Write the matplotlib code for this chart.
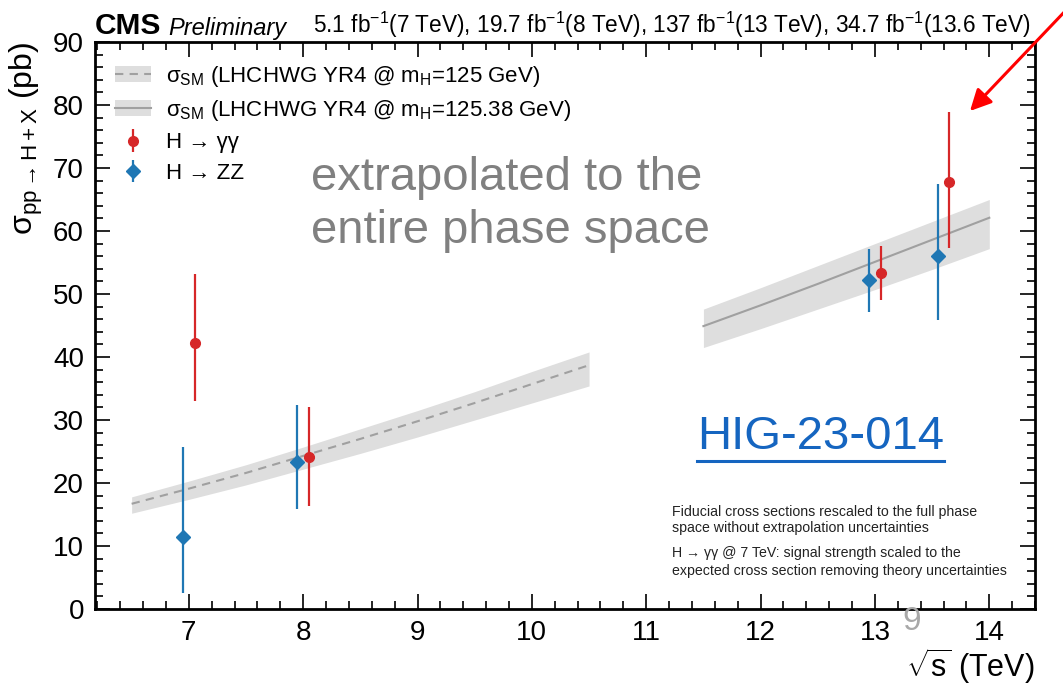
import matplotlib
matplotlib.use("Agg")
import matplotlib.pyplot as plt
from matplotlib.patches import Patch
from matplotlib.lines import Line2D
from matplotlib.ticker import MultipleLocator
import numpy as np

plt.rcParams['font.family'] = ['Liberation Sans', 'DejaVu Sans']
plt.rcParams['mathtext.fontset'] = 'custom'
plt.rcParams['mathtext.rm'] = 'Liberation Sans'
plt.rcParams['mathtext.it'] = 'Liberation Sans:italic'
plt.rcParams['mathtext.bf'] = 'Liberation Sans:bold'

# Measured cross sections (pb) per centre-of-mass energy (TeV)
sqrt_s = [7.0, 8.0, 13.0, 13.6]
gg_xs = [42.3, 24.2, 53.3, 67.7]
gg_lo = [33.0, 16.3, 49.0, 57.3]
gg_hi = [53.1, 32.0, 57.6, 78.9]
zz_xs = [11.5, 23.3, 52.2, 56.1]
zz_lo = [2.5, 15.8, 47.2, 45.8]
zz_hi = [25.7, 32.4, 57.1, 67.4]

# SM predictions, mH = 125 GeV
sm125_x = [6.5, 7.0, 7.5, 8.0, 8.5, 9.0, 9.5, 10.0, 10.5]
sm125_y = [16.7, 19.1, 21.6, 24.3, 27.0, 29.8, 32.7, 35.7, 38.7]
sm125_up = [17.8, 20.3, 22.9, 25.7, 28.6, 31.5, 34.5, 37.7, 40.8]
sm125_dn = [15.2, 17.4, 19.7, 22.2, 24.7, 27.3, 30.0, 32.7, 35.4]

# SM predictions, mH = 125.38 GeV
sm12538_x = [11.5, 12.0, 12.5, 13.0, 13.5, 14.0]
sm12538_y = [44.9, 48.2, 51.6, 55.1, 58.6, 62.1]
sm12538_up = [47.6, 51.0, 54.5, 58.0, 61.5, 65.0]
sm12538_dn = [41.5, 44.5, 47.6, 50.7, 53.9, 57.2]

x_ticks = [7, 8, 9, 10, 11, 12, 13, 14]
y_ticks = [0, 10, 20, 30, 40, 50, 60, 70, 80, 90]

red = '#d62728'
blue = '#1f77b4'
band_col = '#dedede'
line_col = '#a0a0a0'

fig = plt.figure(figsize=(10.63, 6.88), dpi=100)
ax = fig.add_axes([0.0894, 0.1148, 0.8843, 0.8242])

ax.fill_between(sm125_x, sm125_dn, sm125_up, color=band_col, lw=0)
ax.plot(sm125_x, sm125_y, color=line_col, lw=1.5, ls=(0, (4, 3)))
ax.fill_between(sm12538_x, sm12538_dn, sm12538_up, color=band_col, lw=0)
ax.plot(sm12538_x, sm12538_y, color=line_col, lw=1.5)

gx = np.array(sqrt_s) + 0.05
zx = np.array(sqrt_s) - 0.05
g_err = [np.array(gg_xs) - np.array(gg_lo), np.array(gg_hi) - np.array(gg_xs)]
z_err = [np.array(zz_xs) - np.array(zz_lo), np.array(zz_hi) - np.array(zz_xs)]
eb_g = ax.errorbar(gx, gg_xs, yerr=g_err, fmt='o', color=red, ms=7,
                   elinewidth=1.6, capsize=0, zorder=5)
eb_z = ax.errorbar(zx, zz_xs, yerr=z_err, fmt='D', color=blue, ms=7,
                   elinewidth=1.6, capsize=0, zorder=5)

ax.set_xlim(6.18, 14.4)
ax.set_ylim(0, 90)
ax.set_xticks(x_ticks)
ax.set_yticks(y_ticks)
ax.xaxis.set_minor_locator(MultipleLocator(0.2))
ax.yaxis.set_minor_locator(MultipleLocator(2))
ax.tick_params(which='both', direction='in', top=True, right=True,
               labelsize=20, width=1.2)
ax.tick_params(which='major', length=11, pad=8)
ax.tick_params(which='minor', length=5.5)
for sp in ax.spines.values():
    sp.set_linewidth(2)

ax.set_ylabel(r'σ$_{\mathrm{pp \rightarrow H+X}}$ (pb)', fontsize=23,
              loc='top', labelpad=6)
ax.set_xlabel(r'$\sqrt{\mathrm{s}}$ (TeV)', fontsize=22, loc='right',
              labelpad=0)

# Header
ax.text(0.0, 1.004, 'CMS', transform=ax.transAxes, fontsize=21.5,
        fontweight='bold', ha='left', va='bottom')
ax.text(0.078, 1.004, 'Preliminary', transform=ax.transAxes, fontsize=17,
        style='italic', ha='left', va='bottom')
ax.text(0.995, 1.004,
        r'5.1 fb$^{-1}$(7 TeV), 19.7 fb$^{-1}$(8 TeV), 137 fb$^{-1}$(13 TeV), '
        r'34.7 fb$^{-1}$(13.6 TeV)',
        transform=ax.transAxes, fontsize=16.3, ha='right', va='bottom')

# Legend
h1 = (Patch(color=band_col, lw=0), Line2D([], [], color=line_col, lw=1.5, ls=(0, (4, 3))))
h2 = (Patch(color=band_col, lw=0), Line2D([], [], color=line_col, lw=1.5))
labels = [r'$\mathrm{\sigma_{SM}}$ (LHCHWG YR4 @ $\mathrm{m_H}$=125 GeV)',
          r'$\mathrm{\sigma_{SM}}$ (LHCHWG YR4 @ $\mathrm{m_H}$=125.38 GeV)',
          'H → γγ', 'H → ZZ']
ax.legend([h1, h2, eb_g, eb_z], labels, loc='upper left',
          bbox_to_anchor=(0.0, 0.997), frameon=False, fontsize=16,
          handlelength=1.6, handletextpad=0.7, labelspacing=0.42)

ax.text(0.23, 0.714, 'extrapolated to the\nentire phase space',
        transform=ax.transAxes, fontsize=34, color='#808080',
        ha='left', va='center', linespacing=1.27)

hig = ax.text(0.640, 0.303, 'HIG-23-014', transform=ax.transAxes,
              fontsize=34, color='#1565c0', ha='left', va='center')

ax.text(0.614, 0.157,
        'Fiducial cross sections rescaled to the full phase\n'
        'space without extrapolation uncertainties',
        transform=ax.transAxes, fontsize=10.2, ha='left', va='center',
        color='#222222', linespacing=1.2)
ax.text(0.614, 0.083,
        'H → γγ @ 7 TeV: signal strength scaled to the\n'
        'expected cross section removing theory uncertainties',
        transform=ax.transAxes, fontsize=10.2, ha='left', va='center',
        color='#222222', linespacing=1.3)

# Page number
fig.text(0.858, 0.096, '9', fontsize=24, color='#a8a8a8', ha='center', va='center')

# Pointer arrow
ax.annotate('', xy=(970 / 1063, 1 - 111 / 688), xycoords='figure fraction',
            xytext=(1.003, 1 - 10 / 688), textcoords='figure fraction',
            arrowprops=dict(arrowstyle='-|>', color='#ff0000', lw=2.2,
                            mutation_scale=32, shrinkA=0, shrinkB=0),
            annotation_clip=False)

# Underline for the reference tag
fig.canvas.draw()
bb = hig.get_window_extent()
inv = fig.transFigure.inverted()
(x0, y0), (x1, _) = inv.transform([(bb.x0, bb.y0), (bb.x1, bb.y0)])
fig.add_artist(Line2D([x0, x1], [y0 - 0.002, y0 - 0.002], color='#1565c0',
                      lw=2.2, transform=fig.transFigure))

fig.savefig('out.png', dpi=100)
